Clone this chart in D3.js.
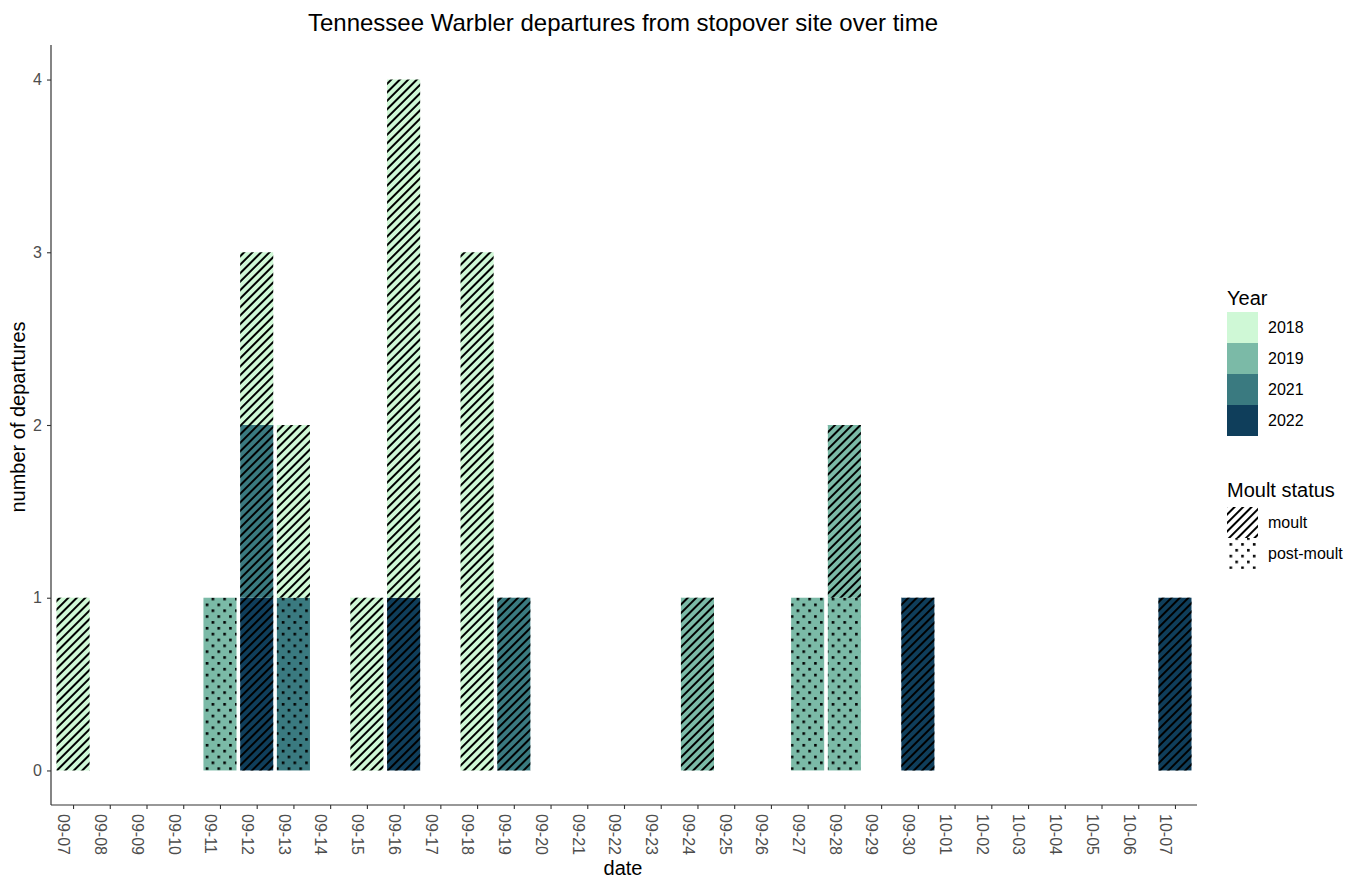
<!DOCTYPE html>
<html>
<head>
<meta charset="utf-8">
<script src="https://cdn.jsdelivr.net/npm/d3@7"></script>
<style>
  html, body { margin: 0; padding: 0; background: #fff; }
  svg { display: block; font-family: "Liberation Sans", Arial, sans-serif; }
</style>
</head>
<body>
<svg id="chart" width="1349" height="881"></svg>
<script>
// ---------- data ----------
const dateLabels = ["09-07","09-08","09-09","09-10","09-11","09-12","09-13","09-14","09-15","09-16",
  "09-17","09-18","09-19","09-20","09-21","09-22","09-23","09-24","09-25","09-26","09-27","09-28",
  "09-29","09-30","10-01","10-02","10-03","10-04","10-05","10-06","10-07"];
const years = ["2018","2019","2021","2022"];
const yearColors = ["#cff8d6","#7bbaa7","#3a7a80","#0f3e5b"];
const moultStatus = ["moult","post-moult"];
const yTicks = [0,1,2,3,4];

// one entry per stacked segment, listed bottom to top within each date
const depDates  = ["09-07","09-11","09-12","09-12","09-12","09-13","09-13","09-15","09-16","09-16","09-18","09-19","09-24","09-27","09-28","09-28","09-30","10-07"];
const depYears  = ["2018","2019","2022","2021","2018","2021","2018","2018","2022","2018","2018","2021","2019","2019","2019","2019","2022","2022"];
const depMoult  = ["moult","post-moult","moult","moult","moult","post-moult","moult","moult","moult","moult","moult","moult","moult","post-moult","post-moult","moult","moult","moult"];
const depCounts = [1,1,1,1,1,1,1,1,1,3,3,1,1,1,1,1,1,1];

// ---------- layout ----------
const svg = d3.select("#chart");
const pLeft = 51, pRight = 1197, pTop = 45, pBottom = 805;

const x = d3.scalePoint().domain(dateLabels).range([pLeft, pRight]).padding(0.6);
const y = d3.scaleLinear().domain([-0.2, 4.2]).range([pBottom, pTop]);
const color = d3.scaleOrdinal().domain(years).range(yearColors);
const patternId = d3.scaleOrdinal().domain(moultStatus).range(["url(#hatch)", "url(#dots)"]);
const barW = x.step() * 0.9;

// patterns
const defs = svg.append("defs");
const hatch = defs.append("pattern").attr("id", "hatch")
  .attr("patternUnits", "userSpaceOnUse").attr("width", 6).attr("height", 6)
  .attr("patternTransform", "rotate(-45)");
hatch.append("line").attr("x1", -1).attr("x2", 7).attr("y1", 3).attr("y2", 3)
  .attr("stroke", "#000").attr("stroke-width", 2);
const dots = defs.append("pattern").attr("id", "dots")
  .attr("patternUnits", "userSpaceOnUse").attr("width", 11.7).attr("height", 11.7);
dots.append("rect").attr("x", 1).attr("y", 1).attr("width", 2.6).attr("height", 2.6).attr("fill", "#000");
dots.append("rect").attr("x", 6.85).attr("y", 6.85).attr("width", 2.6).attr("height", 2.6).attr("fill", "#000");

// stack segments
const segs = [];
const cum = {};
depDates.forEach((d, i) => {
  const y0 = cum[d] || 0;
  const y1 = y0 + depCounts[i];
  cum[d] = y1;
  segs.push({date: d, year: depYears[i], moult: depMoult[i], y0, y1});
});

const gBars = svg.append("g");
gBars.selectAll("rect.fill").data(segs).join("rect").attr("class", "fill")
  .attr("x", d => x(d.date) - barW / 2).attr("width", barW)
  .attr("y", d => y(d.y1)).attr("height", d => y(d.y0) - y(d.y1))
  .attr("fill", d => color(d.year));
gBars.selectAll("rect.pat").data(segs).join("rect").attr("class", "pat")
  .attr("x", d => x(d.date) - barW / 2).attr("width", barW)
  .attr("y", d => y(d.y1)).attr("height", d => y(d.y0) - y(d.y1))
  .attr("fill", d => patternId(d.moult));

// axes
const axisColor = "#333";
const textColor = "#4d4d4d";
const yAxis = svg.append("g").attr("transform", `translate(${pLeft},0)`)
  .call(d3.axisLeft(y).tickValues(yTicks).tickSize(4).tickPadding(5).tickFormat(d3.format("d")));
const xAxis = svg.append("g").attr("transform", `translate(0,${pBottom})`)
  .call(d3.axisBottom(x).tickSize(4));
[yAxis, xAxis].forEach(g => {
  g.select(".domain").attr("stroke", axisColor).attr("stroke-width", 1.2);
  g.selectAll(".tick line").attr("stroke", axisColor).attr("stroke-width", 1.1);
  g.selectAll(".tick text").attr("fill", textColor).style("font-size", "16px")
    .style("font-family", "'Liberation Sans', Arial, sans-serif");
});
yAxis.select(".domain").attr("d", `M0,${pTop}V${pBottom}`);
xAxis.select(".domain").attr("d", `M${pLeft},0H${pRight}`);
xAxis.selectAll(".tick text")
  .attr("transform", "rotate(90)")
  .attr("x", 9).attr("y", 0).attr("dy", "0.95em")
  .attr("text-anchor", "start");

// titles
svg.append("text").attr("x", 623).attr("y", 31).attr("text-anchor", "middle")
  .style("font-size", "24px").attr("fill", "#000")
  .text("Tennessee Warbler departures from stopover site over time");
svg.append("text").attr("x", 623).attr("y", 875).attr("text-anchor", "middle")
  .style("font-size", "20px").attr("fill", "#000").text("date");
svg.append("text").attr("transform", "translate(25,417) rotate(-90)").attr("text-anchor", "middle")
  .style("font-size", "20px").attr("fill", "#000").text("number of departures");

// legend: Year
const lx = 1227, keyW = 31, keyH = 31;
svg.append("text").attr("x", lx).attr("y", 305).style("font-size", "20px").attr("fill", "#000").text("Year");
const gYear = svg.append("g").attr("transform", "translate(0,312)");
years.forEach((yr, i) => {
  gYear.append("rect").attr("x", lx).attr("y", i * keyH).attr("width", keyW).attr("height", keyH)
    .attr("fill", color(yr));
  gYear.append("text").attr("x", lx + keyW + 10).attr("y", i * keyH + keyH / 2).attr("dy", "0.35em")
    .style("font-size", "16px").attr("fill", "#000").text(yr);
});

// legend: Moult status
svg.append("text").attr("x", lx).attr("y", 497).style("font-size", "20px").attr("fill", "#000").text("Moult status");
const gMoult = svg.append("g").attr("transform", "translate(0,507)");
moultStatus.forEach((m, i) => {
  gMoult.append("rect").attr("x", lx).attr("y", i * keyH).attr("width", keyW).attr("height", keyH)
    .attr("fill", "#fff");
  gMoult.append("rect").attr("x", lx).attr("y", i * keyH).attr("width", keyW).attr("height", keyH)
    .attr("fill", patternId(m));
  gMoult.append("text").attr("x", lx + keyW + 10).attr("y", i * keyH + keyH / 2).attr("dy", "0.35em")
    .style("font-size", "16px").attr("fill", "#000").text(m);
});
</script>
</body>
</html>
